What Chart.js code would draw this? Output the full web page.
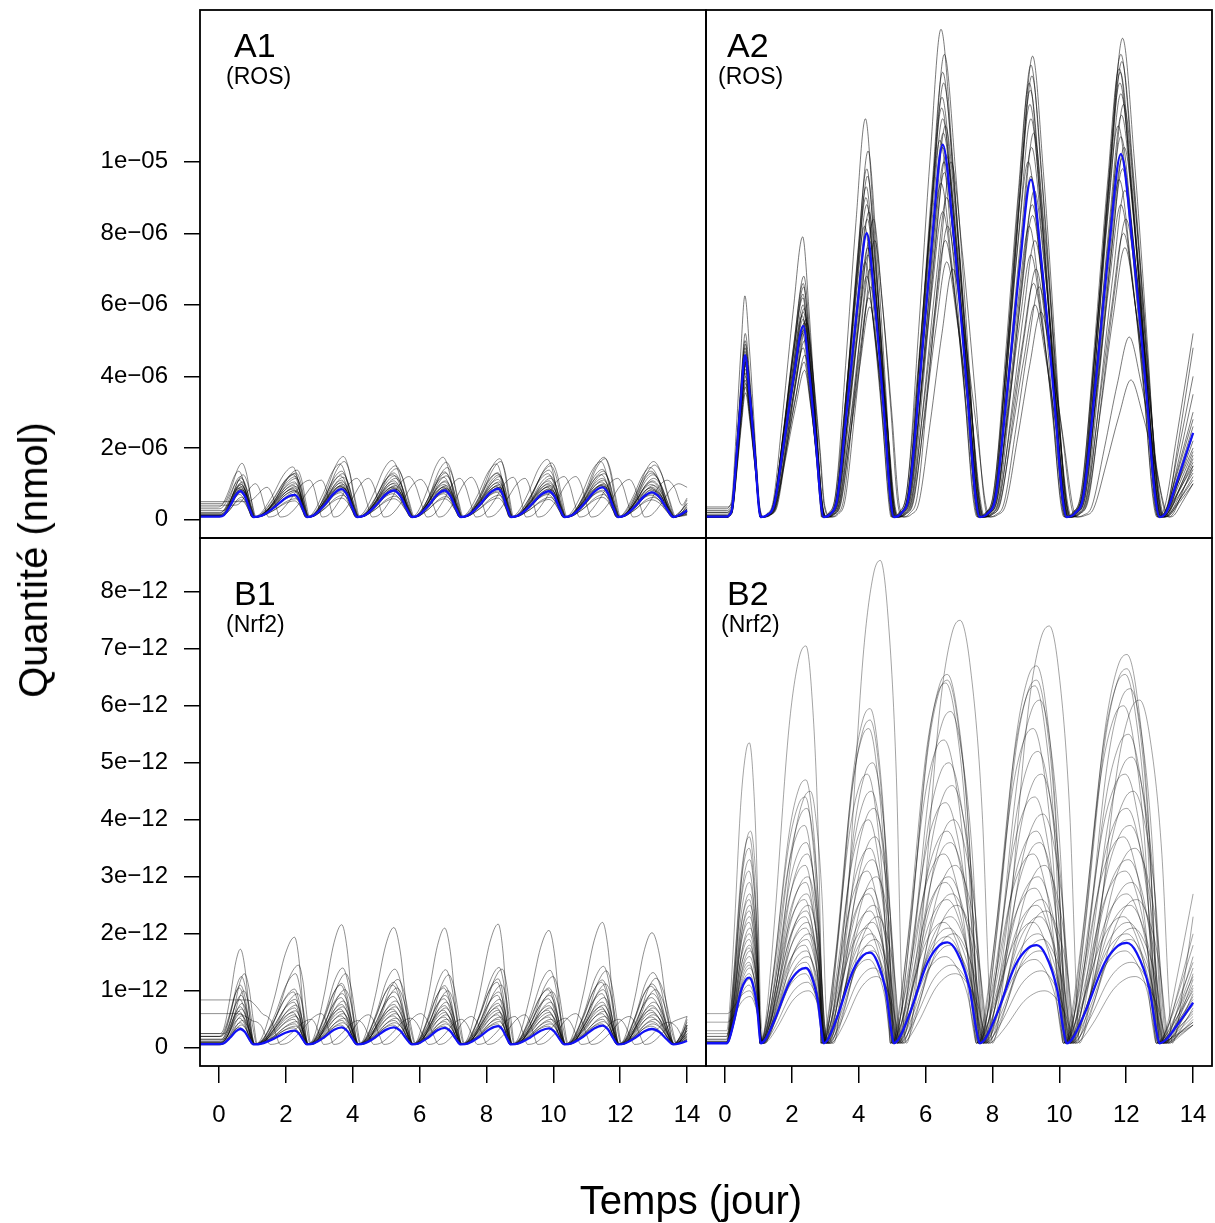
<!DOCTYPE html>
<html>
<head>
<meta charset="utf-8">
<script src="https://cdn.jsdelivr.net/npm/chart.js@4.4.1/dist/chart.umd.min.js"></script>
<style>
body { margin: 0; background: #fff; }
#fig { position: relative; width: 1215px; height: 1223px; background: #fff;
       font-family: "Liberation Sans", Arial, Helvetica, sans-serif; color: #000; }
canvas { position: absolute; }
.lab { position: absolute; line-height: 1; white-space: nowrap; }
.big { font-size: 34px; }
.sub { font-size: 23px; }
.title { position: absolute; font-size: 40px; line-height: 1; white-space: nowrap; }
</style>
</head>
<body>
<div id="fig">
  <canvas id="a1" width="707" height="539" style="left:0;top:0"></canvas>
  <canvas id="a2" width="515" height="539" style="left:700px;top:0"></canvas>
  <canvas id="b1" width="707" height="693" style="left:0;top:530px"></canvas>
  <canvas id="b2" width="515" height="693" style="left:700px;top:530px"></canvas>

  <div class="lab big" style="left:234px;top:28px">A1</div>
  <div class="lab sub" style="left:226px;top:65px">(ROS)</div>
  <div class="lab big" style="left:727px;top:28px">A2</div>
  <div class="lab sub" style="left:718px;top:65px">(ROS)</div>
  <div class="lab big" style="left:234px;top:576px">B1</div>
  <div class="lab sub" style="left:226px;top:613px">(Nrf2)</div>
  <div class="lab big" style="left:727px;top:576px">B2</div>
  <div class="lab sub" style="left:721px;top:613px">(Nrf2)</div>

  <div class="title" style="left:33px;top:560px;transform:translate(-50%,-50%) rotate(-90deg)">Quantité (nmol)</div>
  <div class="title" style="left:691px;top:1200px;transform:translate(-50%,-50%)">Temps (jour)</div>
</div>

<script>
// axis ranges (days, and 1e-06 / 1e-12 nmol units)
var X_MIN = -0.568, X_MAX = 14.565;
var rosRange = [-0.517, 14.24];
var nrfRange = [-0.319, 8.944];

var dayTicks = [0, 2, 4, 6, 8, 10, 12, 14];
var rosTicks = [0, 2, 4, 6, 8, 10];
var rosTickLabels = ['0', '2e\u221206', '4e\u221206', '6e\u221206', '8e\u221206', '1e\u221205'];
var nrfTicks = [0, 1, 2, 3, 4, 5, 6, 7, 8];
var nrfTickLabels = ['0', '1e\u221212', '2e\u221212', '3e\u221212', '4e\u221212', '5e\u221212', '6e\u221212', '7e\u221212', '8e\u221212'];

// cycle timing (day of trough before each peak, peak, trough after)
var leftRise = [0.02, 1.03, 2.63, 4.13, 5.77, 7.23, 8.73, 10.33, 11.93];
var leftPeak = [0.64, 2.26, 3.67, 5.23, 6.75, 8.35, 9.87, 11.47, 12.95];
var leftFall = [1.03, 2.63, 4.13, 5.77, 7.23, 8.73, 10.33, 11.93, 13.59];
var rightRise = [0.05, 1.07, 2.95, 5.05, 7.62, 10.22];
var a2PeakDay = [0.60, 2.34, 4.24, 6.51, 9.15, 11.84];
var b2PeakDay = [0.73, 2.42, 4.34, 6.65, 9.32, 12.02];
var rightFall = [1.07, 2.95, 5.05, 7.62, 10.22, 13.0];
// how much of each run's time offset shows in each cycle (runs drift apart over time)
var leftLagWeight = [1, 1, 1, 1, 1, 1, 1, 1, 1];
var rightLagWeight = [0.1, 0.35, 0.8, 1, 1, 1];

// shape of one pulse: [fraction of phase, fraction of height]
var leftRiseShape = [[0, 0], [0.2, 0.06], [0.5, 0.42], [0.78, 0.85], [1, 1]];
var leftFallShape = [[0.35, 0.8], [0.7, 0.32]];
var leftTailShape = [[0, 0], [0.5, 0.35]];
var a2RiseShape = [[0, 0], [0.15, 0.01], [0.31, 0.06], [0.54, 0.38], [0.78, 0.74], [1, 1]];
var a2FallShape = [[0.3, 0.75], [0.65, 0.35], [0.88, 0.06]];
var a2TailShape = [[0, 0], [0.2, 0.06], [0.5, 0.4]];
var b2RiseShape = [[0, 0], [0.1, 0.05], [0.3, 0.3], [0.63, 0.8], [0.85, 0.97], [1, 1]];
var b2FallShape = [[0.3, 0.9], [0.68, 0.55], [0.9, 0.12]];
var b2TailShape = [[0, 0], [0.2, 0.1], [0.5, 0.42]];

// blue curves: peak heights per cycle
var a1BluePeaks = [0.79, 0.69, 0.85, 0.81, 0.81, 0.86, 0.79, 0.90, 0.76];
var b1BluePeaks = [0.33, 0.30, 0.36, 0.36, 0.35, 0.38, 0.34, 0.39, 0.33];
var a2BluePeaks = [4.59, 5.41, 8.00, 10.48, 9.50, 10.21];
var b2BluePeaks = [1.23, 1.40, 1.67, 1.85, 1.80, 1.84];
var blueStart = [0.08, 0.065, 0.08, 0.08];
var blueEnd = [0.25, 0.12, 2.42, 0.79];
var troughLevel = [0.07, 0.06, 0.07, 0.08];

// grey runs, panel A1 (ROS, 1e-06)
var a1Peaks = [
  [1.57, 1.30, 1.76, 1.50, 1.60, 1.70, 1.50, 1.74, 1.62],
  [1.35, 1.47, 1.55, 1.65, 1.74, 1.55, 1.68, 1.62, 1.45],
  [1.25, 1.38, 1.62, 1.42, 1.45, 1.62, 1.58, 1.70, 1.52],
  [1.20, 1.28, 1.35, 1.30, 1.33, 1.30, 1.38, 1.40, 1.30],
  [1.15, 1.20, 1.28, 1.22, 1.30, 1.25, 1.22, 1.35, 1.25],
  [1.10, 1.25, 1.22, 1.25, 1.18, 1.30, 1.28, 1.25, 1.35],
  [1.05, 1.15, 1.18, 1.15, 1.22, 1.20, 1.15, 1.28, 1.15],
  [1.00, 1.05, 1.10, 1.08, 1.05, 1.12, 1.08, 1.15, 1.05],
  [0.98, 1.00, 1.05, 1.02, 1.08, 1.05, 1.02, 1.10, 1.08],
  [0.95, 0.95, 1.02, 1.00, 0.98, 1.02, 0.98, 1.05, 0.98],
  [0.92, 0.92, 0.98, 0.95, 0.95, 0.98, 0.95, 1.00, 0.95],
  [0.90, 0.88, 0.95, 0.92, 0.92, 0.95, 0.92, 0.98, 0.90],
  [0.88, 0.85, 0.93, 0.90, 0.90, 0.92, 0.90, 0.95, 0.88],
  [0.85, 0.82, 0.90, 0.88, 0.88, 0.90, 0.86, 0.92, 0.85],
  [0.84, 0.80, 0.92, 0.86, 0.85, 0.88, 0.84, 0.95, 0.82],
  [0.82, 0.78, 0.88, 0.84, 0.86, 0.90, 0.82, 0.92, 0.80],
  [0.75, 0.70, 0.80, 0.78, 0.76, 0.80, 0.74, 0.82, 0.72],
  [0.70, 0.65, 0.75, 0.72, 0.72, 0.76, 0.70, 0.78, 0.68],
  [0.62, 0.58, 0.68, 0.65, 0.64, 0.68, 0.62, 0.70, 0.62],
  [0.55, 0.52, 0.60, 0.58, 0.58, 0.60, 0.56, 0.62, 0.55],
  [1.00, 1.10, 1.15, 1.20, 1.15, 1.18, 1.20, 1.15, 1.10],
  [0.90, 1.10, 1.15, 1.12, 1.18, 1.15, 1.20, 1.12, 1.00]
];
var a1Lag = [0.05, -0.05, 0.08, 0, 0.03, -0.03, 0.05, 0, 0.02, -0.02, 0.04, 0, -0.04, 0.02, 0, 0.06, 0, -0.03, 0.03, 0, 0.45, 0.8];
var a1Start = [0.45, 0.35, 0.25, 0.2, 0.15, 0.3, 0.12, 0.1, 0.1, 0.18, 0.1, 0.1, 0.12, 0.1, 0.1, 0.15, 0.1, 0.08, 0.1, 0.08, 0.4, 0.5];
var a1End = [0.55, 0.45, 0.4, 0.35, 0.3, 0.45, 0.3, 0.28, 0.3, 0.25, 0.22, 0.25, 0.2, 0.22, 0.2, 0.25, 0.18, 0.15, 0.15, 0.12, 0.6, 0.9];

// grey runs, panel B1 (Nrf2, 1e-12)
var b1Peaks = [
  [1.73, 1.94, 2.16, 2.11, 2.10, 2.17, 2.06, 2.20, 2.02],
  [1.25, 1.30, 1.40, 1.38, 1.37, 1.41, 1.36, 1.43, 1.32],
  [1.30, 1.45, 1.30, 1.20, 1.28, 1.38, 1.25, 1.35, 1.22],
  [1.10, 1.03, 1.13, 1.15, 1.09, 1.21, 1.05, 1.19, 1.12],
  [1.05, 0.98, 1.10, 1.10, 1.05, 1.15, 1.02, 1.15, 1.08],
  [1.00, 0.95, 1.02, 1.05, 1.00, 1.10, 0.98, 1.12, 1.02],
  [0.92, 0.85, 0.95, 0.98, 0.92, 0.98, 0.92, 1.02, 0.95],
  [0.85, 0.80, 0.88, 0.90, 0.86, 0.92, 0.86, 0.95, 0.88],
  [0.78, 0.75, 0.82, 0.82, 0.80, 0.85, 0.80, 0.88, 0.80],
  [0.72, 0.70, 0.76, 0.76, 0.74, 0.78, 0.74, 0.80, 0.74],
  [0.68, 0.65, 0.72, 0.72, 0.70, 0.74, 0.70, 0.75, 0.70],
  [0.64, 0.62, 0.68, 0.68, 0.66, 0.70, 0.66, 0.72, 0.66],
  [0.60, 0.58, 0.64, 0.64, 0.62, 0.66, 0.62, 0.68, 0.62],
  [0.56, 0.55, 0.60, 0.60, 0.58, 0.62, 0.58, 0.64, 0.58],
  [0.52, 0.50, 0.56, 0.56, 0.54, 0.58, 0.54, 0.60, 0.54],
  [0.48, 0.46, 0.52, 0.52, 0.50, 0.54, 0.50, 0.55, 0.50],
  [0.44, 0.42, 0.48, 0.48, 0.46, 0.50, 0.46, 0.50, 0.46],
  [0.40, 0.38, 0.44, 0.44, 0.42, 0.46, 0.42, 0.46, 0.42],
  [0.36, 0.35, 0.40, 0.40, 0.38, 0.42, 0.38, 0.42, 0.38],
  [0.55, 0.60, 0.58, 0.60, 0.55, 0.58, 0.60, 0.55, 0.50],
  [0.45, 0.50, 0.48, 0.52, 0.50, 0.55, 0.52, 0.50, 0.45]
];
var b1Lag = [0, 0.03, 0.12, 0, -0.03, 0.1, 0.02, -0.02, 0.05, 0, 0.03, -0.04, 0, 0.04, -0.02, 0.06, 0, 0.03, -0.03, 0.8, 0.5];
var b1Start = [0.25, 0.2, 0.25, 0.2, 0.2, 0.15, 0.15, 0.12, 0.1, 0.1, 0.1, 0.08, 0.08, 0.08, 0.07, 0.07, 0.06, 0.06, 0.05, 0.84, 0.6];
var b1End = [0.4, 0.55, 0.5, 0.45, 0.4, 0.35, 0.35, 0.3, 0.3, 0.25, 0.25, 0.22, 0.2, 0.2, 0.18, 0.16, 0.15, 0.14, 0.12, 0.55, 0.4];

// grey runs, panel A2 (ROS, 1e-06)
var a2Peaks = [
  [6.25, 7.90, 11.20, 13.70, 12.20, 12.60],
  [5.20, 6.80, 10.30, 13.00, 12.95, 13.45],
  [5.00, 6.60, 9.80, 12.50, 12.70, 13.00],
  [4.90, 6.50, 9.60, 12.20, 12.40, 12.80],
  [4.80, 6.30, 9.30, 11.80, 12.00, 12.50],
  [4.70, 6.20, 9.00, 11.50, 11.60, 12.20],
  [4.60, 6.00, 8.80, 11.20, 11.20, 11.90],
  [4.55, 5.90, 8.60, 11.00, 10.80, 11.60],
  [4.50, 5.80, 8.40, 10.80, 10.40, 11.30],
  [4.45, 5.70, 8.20, 10.60, 10.00, 11.00],
  [4.40, 5.60, 8.00, 10.40, 9.60, 10.70],
  [4.35, 5.50, 7.80, 10.20, 9.20, 10.40],
  [4.30, 5.40, 7.60, 10.00, 8.80, 10.10],
  [4.20, 5.30, 7.40, 9.70, 8.50, 9.80],
  [4.10, 5.20, 7.20, 9.40, 8.20, 9.50],
  [4.00, 5.00, 7.00, 9.00, 7.80, 9.20],
  [3.90, 4.80, 6.80, 8.60, 7.40, 8.80],
  [3.80, 4.60, 6.50, 8.20, 7.00, 8.40],
  [3.70, 4.40, 6.20, 7.80, 6.60, 8.00],
  [3.54, 4.17, 5.95, 7.20, 6.00, 7.60],
  [4.40, 5.60, 8.40, 10.00, 6.50, 5.10],
  [4.50, 5.50, 7.80, 7.00, 5.80, 3.90]
];
var a2Lag = [-0.05, 0.05, 0, 0.03, -0.02, -0.03, 0, 0.08, 0.02, -0.08, 0, 0.1, 0.04, 0.05, -0.05, 0.12, 0, 0.15, 0.08, 0.12, 0.25, 0.3];
var a2Start = [0.3, 0.25, 0.2, 0.15, 0.12, 0.1, 0.1, 0.1, 0.08, 0.08, 0.08, 0.08, 0.07, 0.07, 0.07, 0.07, 0.07, 0.07, 0.07, 0.07, 0.35, 0.2];
var a2End = [5.2, 4.8, 4.0, 3.5, 3.0, 2.8, 2.6, 2.4, 2.2, 2.0, 1.9, 1.8, 1.7, 1.6, 1.5, 1.4, 1.3, 1.2, 1.1, 1.0, 1.5, 1.0];

// grey runs, panel B2 (Nrf2, 1e-12)
var b2Peaks = [
  [5.35, 7.05, 5.95, 6.55, 6.70, 6.90],
  [3.80, 4.50, 8.55, 7.50, 7.40, 6.10],
  [3.70, 4.70, 5.75, 6.45, 6.45, 6.65],
  [3.50, 4.40, 5.60, 6.40, 6.35, 6.55],
  [3.30, 4.20, 5.00, 5.90, 6.10, 6.30],
  [3.10, 3.90, 4.80, 5.40, 5.60, 6.00],
  [2.90, 3.60, 4.50, 5.00, 5.20, 5.50],
  [2.70, 3.40, 4.20, 4.60, 4.80, 5.10],
  [2.60, 3.20, 4.00, 4.30, 4.40, 4.80],
  [2.50, 3.00, 3.70, 4.00, 4.10, 4.50],
  [2.40, 2.90, 3.50, 3.80, 3.80, 4.20],
  [2.30, 2.70, 3.30, 3.60, 3.60, 3.90],
  [2.20, 2.60, 3.10, 3.40, 3.40, 3.70],
  [2.10, 2.50, 3.00, 3.20, 3.20, 3.50],
  [2.00, 2.40, 2.80, 3.00, 3.00, 3.30],
  [1.90, 2.30, 2.70, 2.90, 2.80, 3.10],
  [1.80, 2.20, 2.50, 2.70, 2.60, 2.90],
  [1.75, 2.10, 2.40, 2.60, 2.50, 2.70],
  [1.70, 2.00, 2.30, 2.50, 2.40, 2.60],
  [1.60, 1.90, 2.20, 2.30, 2.30, 2.50],
  [1.50, 1.80, 2.10, 2.20, 2.20, 2.30],
  [1.45, 1.70, 2.00, 2.10, 2.00, 2.20],
  [1.40, 1.60, 1.90, 2.00, 1.90, 2.10],
  [1.30, 1.50, 1.80, 1.95, 1.80, 2.00],
  [1.20, 1.40, 1.70, 1.80, 1.70, 1.90],
  [1.10, 1.30, 1.55, 1.60, 1.55, 1.70],
  [1.00, 1.15, 1.40, 1.45, 1.35, 1.50],
  [0.90, 1.00, 1.25, 1.30, 1.00, 1.25]
];
var b2Lag = [0, 0.38, 0, -0.05, 0.1, -0.1, 0.05, 0.15, -0.05, 0.2, 0, 0.1, -0.1, 0.25, 0.05, -0.05, 0.15, 0, 0.3, 0.1, -0.1, 0.05, 0.2, 0, 0.1, -0.05, 0.15, 0.25];
var b2Start = [0.3, 0.25, 0.2, 0.2, 0.15, 0.15, 0.12, 0.1, 0.1, 0.1, 0.1, 0.1, 0.1, 0.08, 0.08, 0.08, 0.08, 0.08, 0.08, 0.08, 0.08, 0.08, 0.08, 0.08, 0.08, 0.08, 0.6, 0.45];
var b2End = [2.7, 2.3, 2.0, 1.8, 1.6, 1.5, 1.4, 1.3, 1.25, 1.2, 1.1, 1.05, 1.0, 0.95, 0.9, 0.85, 0.8, 0.75, 0.7, 0.65, 0.6, 0.55, 0.5, 0.45, 0.45, 0.4, 0.4, 0.4];

var BLUE = 'rgb(18,18,245)';
var tickFont = { family: '"Liberation Sans", Arial, Helvetica, sans-serif', size: 24 };

// knots of one run: flat start, one pulse per cycle, partial rise up to day 14
function runPoints(timing, peaks, start, end, lag, base) {
  var pts = [{ x: X_MIN, y: start }];
  for (var c = 0; c < peaks.length; c++) {
    var d = lag * timing.lagWeight[c];
    var t0 = timing.rise[c] + d, tp = timing.peak[c] + d, t1 = timing.fall[c] + d;
    var lo = c === 0 ? start : base;
    timing.riseShape.forEach(function (k) {
      pts.push({ x: t0 + k[0] * (tp - t0), y: lo + k[1] * (peaks[c] - lo) });
    });
    timing.fallShape.forEach(function (k) {
      pts.push({ x: tp + k[0] * (t1 - tp), y: base + k[1] * (peaks[c] - base) });
    });
  }
  var tl = timing.fall[timing.fall.length - 1] + lag;
  timing.tailShape.forEach(function (k) {
    pts.push({ x: tl + k[0] * (14 - tl), y: base + k[1] * (end - base) });
  });
  pts = pts.filter(function (p) { return p.x < 13.97; });
  pts.push({ x: 14, y: end });
  return pts;
}

var boxPlugin = {
  id: 'box',
  afterDraw: function (chart) {
    var a = chart.chartArea, ctx = chart.ctx;
    ctx.save();
    ctx.strokeStyle = '#000';
    ctx.lineWidth = 1.8;
    ctx.strokeRect(a.left, a.top, a.right - a.left, a.bottom - a.top);
    ctx.restore();
  }
};

// stop the scales from reserving room for their end labels
function noLabelPadding(s) {
  s.paddingLeft = 0; s.paddingRight = 0; s.paddingTop = 0; s.paddingBottom = 0;
}

function makePanel(id, p) {
  var datasets = [{
    data: runPoints(p.timing, p.bluePeaks, p.blueStart, p.blueEnd, 0, p.base),
    borderColor: BLUE, borderWidth: 2.3
  }];
  p.peaks.forEach(function (pk, i) {
    datasets.push({
      data: runPoints(p.timing, pk, p.start[i], p.end[i], p.lag[i], p.base),
      borderColor: p.grey, borderWidth: 1
    });
  });
  datasets.forEach(function (d) {
    d.pointRadius = 0;
    d.fill = false;
    d.cubicInterpolationMode = 'monotone';
  });

  var yAxis = {
    type: 'linear', min: p.yRange[0], max: p.yRange[1], display: p.showY,
    afterBuildTicks: function (s) { s.ticks = p.yTicks.map(function (v) { return { value: v }; }); },
    afterFit: function (s) { noLabelPadding(s); if (p.showY) s.width = 200; },
    grid: { drawOnChartArea: false, drawTicks: true, tickLength: 16, color: '#000', lineWidth: 1.5 },
    border: { display: false },
    ticks: { padding: 16, color: '#000', font: tickFont, autoSkip: false,
             callback: function (v, i) { return p.yLabels[i]; } }
  };

  var xAxis = {
    type: 'linear', min: X_MIN, max: X_MAX, display: p.showX, position: 'bottom',
    afterBuildTicks: function (s) { s.ticks = dayTicks.map(function (v) { return { value: v }; }); },
    afterFit: function (s) { noLabelPadding(s); if (p.showX) s.height = 157; },
    grid: { drawOnChartArea: false, drawTicks: true, tickLength: 17, color: '#000', lineWidth: 1.5 },
    border: { display: false },
    ticks: { padding: 18, color: '#000', font: tickFont, autoSkip: false, maxRotation: 0,
             callback: function (v) { return String(v); } }
  };

  new Chart(document.getElementById(id), {
    type: 'line',
    data: { datasets: datasets },
    options: {
      responsive: false, animation: false, devicePixelRatio: 1, events: [],
      layout: { padding: p.padding },
      plugins: { legend: { display: false }, tooltip: { enabled: false } },
      scales: { x: xAxis, y: yAxis }
    },
    plugins: [boxPlugin]
  });
}

var leftTiming = { rise: leftRise, peak: leftPeak, fall: leftFall, lagWeight: leftLagWeight,
  riseShape: leftRiseShape, fallShape: leftFallShape, tailShape: leftTailShape };
var a2Timing = { rise: rightRise, peak: a2PeakDay, fall: rightFall, lagWeight: rightLagWeight,
  riseShape: a2RiseShape, fallShape: a2FallShape, tailShape: a2TailShape };
var b2Timing = { rise: rightRise, peak: b2PeakDay, fall: rightFall, lagWeight: rightLagWeight,
  riseShape: b2RiseShape, fallShape: b2FallShape, tailShape: b2TailShape };

makePanel('a1', { timing: leftTiming, peaks: a1Peaks, lag: a1Lag, start: a1Start, end: a1End,
  bluePeaks: a1BluePeaks, blueStart: blueStart[0], blueEnd: blueEnd[0], base: troughLevel[0],
  grey: 'rgba(0,0,0,0.46)',
  yRange: rosRange, yTicks: rosTicks, yLabels: rosTickLabels, showY: true, showX: false,
  padding: { left: 0, top: 10, right: 1, bottom: 1 } });
makePanel('b1', { timing: leftTiming, peaks: b1Peaks, lag: b1Lag, start: b1Start, end: b1End,
  bluePeaks: b1BluePeaks, blueStart: blueStart[1], blueEnd: blueEnd[1], base: troughLevel[1],
  grey: 'rgba(0,0,0,0.44)',
  yRange: nrfRange, yTicks: nrfTicks, yLabels: nrfTickLabels, showY: true, showX: true,
  padding: { left: 0, top: 8, right: 1, bottom: 0 } });
makePanel('a2', { timing: a2Timing, peaks: a2Peaks, lag: a2Lag, start: a2Start, end: a2End,
  bluePeaks: a2BluePeaks, blueStart: blueStart[2], blueEnd: blueEnd[2], base: troughLevel[2],
  grey: 'rgba(0,0,0,0.52)',
  yRange: rosRange, yTicks: rosTicks, yLabels: rosTickLabels, showY: false, showX: false,
  padding: { left: 6, top: 10, right: 3, bottom: 1 } });
makePanel('b2', { timing: b2Timing, peaks: b2Peaks, lag: b2Lag, start: b2Start, end: b2End,
  bluePeaks: b2BluePeaks, blueStart: blueStart[3], blueEnd: blueEnd[3], base: troughLevel[3],
  grey: 'rgba(0,0,0,0.36)',
  yRange: nrfRange, yTicks: nrfTicks, yLabels: nrfTickLabels, showY: false, showX: true,
  padding: { left: 6, top: 8, right: 3, bottom: 0 } });
</script>
</body>
</html>
